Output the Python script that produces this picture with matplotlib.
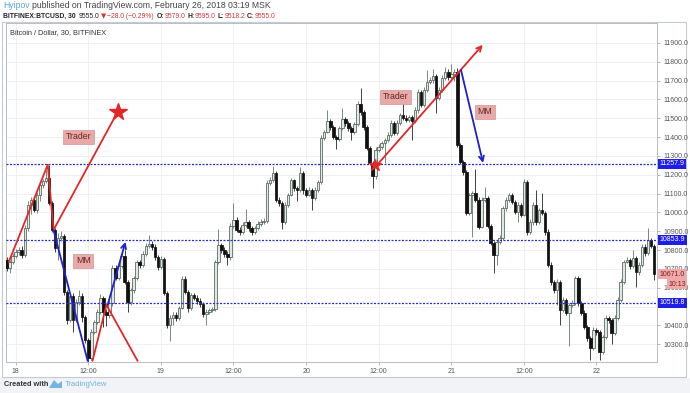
import numpy as np
import matplotlib
matplotlib.use('Agg')
import matplotlib.pyplot as plt
from matplotlib.patches import Rectangle, Polygon

plt.rcParams['font.family'] = ['Liberation Sans', 'DejaVu Sans']

# ---- data: BTCUSD 30m candles (bar index 0 = Feb 18 00:00) ----
first_open = 10748
closes = [
    10706, 10737, 10769, 10791, 10801, 10775, 10918, 11040, 11067, 11014,
    11093, 11146, 11168, 11184, 11051, 10907, 10812, 10865, 10876, 10578,
    10430, 10557, 10430, 10525, 10557, 10446, 10323, 10228, 10366, 10419,
    10472, 10546, 10472, 10456, 10520, 10706, 10653, 10716, 10769, 10631,
    10525, 10589, 10653, 10737, 10722, 10780, 10822, 10833, 10817, 10764,
    10711, 10753, 10573, 10403, 10440, 10456, 10440, 10493, 10647, 10578,
    10493, 10562, 10546, 10530, 10515, 10461, 10472, 10483, 10488, 10737,
    10828, 10801, 10780, 10764, 10929, 10961, 10907, 10897, 10934, 10950,
    10918, 10897, 10918, 10939, 10950, 10955, 11157, 11173, 11210, 11067,
    11051, 10950, 11040, 11093, 11173, 11130, 11120, 11210, 11120, 11093,
    11120, 11077, 11120, 11162, 11396, 11428, 11486, 11454, 11401, 11391,
    11449, 11497, 11476, 11449, 11428, 11470, 11577, 11534, 11454, 11343,
    11263, 11194, 11332, 11348, 11369, 11385, 11412, 11476, 11422, 11476,
    11518, 11502, 11491, 11507, 11486, 11545, 11640, 11571, 11651, 11693,
    11704, 11725, 11608, 11651, 11715, 11746, 11720, 11736, 11746, 11359,
    11269, 11215, 10998, 11093, 11104, 11067, 10923, 11067, 11077, 10929,
    10838, 10775, 10844, 10865, 11024, 11067, 11093, 11056, 11003, 11040,
    10987, 11162, 10897, 10950, 11040, 10950, 11014, 10998, 10897, 10722,
    10631, 10589, 10631, 10483, 10536, 10467, 10509, 10520, 10653, 10520,
    10467, 10392, 10334, 10281, 10376, 10366, 10260, 10339, 10440, 10430,
    10361, 10440, 10536, 10631, 10737, 10748, 10716, 10759, 10684, 10722,
    10817, 10785, 10854, 10822, 10671,
]
highs = [
    10765, 10750, 10785, 10805, 10815, 10820, 10935, 11060, 11080, 11080,
    11110, 11165, 11180, 11225, 11253, 11060, 10920, 10890, 10900, 10885,
    10590, 10575, 10570, 10540, 10590, 10570, 10455, 10335, 10380, 10430,
    10490, 10565, 10555, 10490, 10535, 10720, 10720, 10730, 10790, 10800,
    10640, 10600, 10665, 10750, 10750, 10795, 10840, 10880, 10850, 10830,
    10775, 10770, 10765, 10585, 10455, 10470, 10470, 10505, 10660, 10660,
    10590, 10575, 10575, 10560, 10545, 10525, 10485, 10495, 10500, 10750,
    10910, 10840, 10815, 10795, 10945, 11050, 10975, 10925, 10950, 11020,
    10960, 10930, 10930, 10955, 10965, 10970, 11170, 11190, 11245, 11220,
    11080, 11060, 11055, 11105, 11185, 11180, 11140, 11240, 11220, 11130,
    11135, 11130, 11135, 11175, 11410, 11440, 11545, 11495, 11465, 11410,
    11460, 11555, 11505, 11485, 11460, 11480, 11590, 11660, 11545, 11465,
    11355, 11275, 11345, 11365, 11380, 11395, 11425, 11490, 11485, 11490,
    11530, 11600, 11515, 11520, 11515, 11560, 11655, 11650, 11665, 11755,
    11720, 11760, 11735, 11665, 11730, 11775, 11760, 11790, 11760, 11765,
    11370, 11280, 11225, 11105, 11115, 11230, 11080, 11080, 11135, 11090,
    10940, 10850, 10855, 10880, 11035, 11080, 11105, 11105, 11065, 11055,
    11050, 11180, 11175, 10965, 11055, 11120, 11025, 11105, 11010, 10910,
    10735, 10640, 10645, 10640, 10550, 10545, 10520, 10535, 10665, 10665,
    10530, 10480, 10405, 10345, 10390, 10385, 10375, 10350, 10455, 10450,
    10440, 10455, 10550, 10645, 10750, 10765, 10760, 10800, 10770, 10735,
    10830, 10830, 10920, 10865, 10835,
]
lows = [
    10690, 10680, 10725, 10760, 10775, 10760, 10765, 10900, 10990, 11000,
    10995, 11060, 11130, 11155, 11040, 10895, 10790, 10745, 10850, 10560,
    10410, 10420, 10365, 10420, 10510, 10420, 10305, 10207, 10215, 10355,
    10410, 10460, 10390, 10395, 10440, 10505, 10640, 10640, 10705, 10620,
    10470, 10510, 10575, 10640, 10705, 10710, 10770, 10810, 10800, 10750,
    10695, 10700, 10560, 10385, 10320, 10400, 10425, 10430, 10485, 10565,
    10470, 10480, 10535, 10515, 10500, 10445, 10400, 10460, 10470, 10475,
    10725, 10785, 10765, 10720, 10750, 10915, 10895, 10880, 10885, 10925,
    10900, 10880, 10885, 10905, 10930, 10940, 10945, 11145, 11160, 11055,
    11035, 10910, 10940, 11030, 11085, 11115, 11060, 11110, 11100, 11080,
    11085, 11015, 11065, 11110, 11150, 11385, 11420, 11440, 11390, 11335,
    11380, 11440, 11460, 11435, 11385, 11415, 11460, 11520, 11440, 11330,
    11250, 11130, 11180, 11320, 11335, 11260, 11375, 11400, 11410, 11410,
    11465, 11490, 11480, 11480, 11385, 11475, 11530, 11560, 11560, 11640,
    11680, 11690, 11530, 11595, 11640, 11705, 11705, 11710, 11700, 11345,
    11255, 11200, 10985, 10985, 10870, 11055, 10910, 10915, 11055, 10915,
    10825, 10680, 10720, 10830, 10855, 11010, 11055, 11045, 10990, 10950,
    10975, 10980, 10880, 10885, 10935, 10935, 10940, 10985, 10880, 10710,
    10615, 10575, 10510, 10405, 10470, 10455, 10290, 10500, 10510, 10505,
    10455, 10380, 10320, 10215, 10270, 10350, 10215, 10250, 10330, 10415,
    10300, 10350, 10430, 10525, 10620, 10730, 10700, 10705, 10605, 10670,
    10710, 10770, 10775, 10810, 10640,
]
first_bar = -3

level_prices = [11257.9, 10853.9, 10519.8]
last_price = 10671.0
time_ticks = [0, 24, 48, 72, 96, 120, 144, 168, 192]
time_labels = ['18', '12:00', '19', '12:00', '20', '12:00', '21', '12:00', '22']
price_ticks = list(range(10300, 12000, 100))
hidden_price_labels = [10500]  # fully covered by the 10519.8 level tag

# drawings (bar index, price)
trader1_path = [(-2.3, 10737), (10.6, 11253), (12.5, 10907), (33.7, 11534)]
mm1_path = [(12.5, 10907), (23.8, 10212)]
trader2_path = [(25.4, 10212), (30.0, 10509), (40.3, 10212)]
mm2_arrow = [(30.4, 10509), (36.3, 10844)]
trader3_arrow = [(119.5, 11253), (154.4, 11890)]
mm3_arrow = [(147.2, 11757), (154.5, 11263)]
stars = [(33.7, 11534, 13), (118.8, 11253, 9)]
labels = [(20.8, 11401, 'Trader'), (22.4, 10743, 'MM'),
          (125.7, 11614, 'Trader'), (155.1, 11534, 'MM')]

# ---- figure ----
W, H = 690, 393
fig = plt.figure(figsize=(W / 100, H / 100), dpi=100)

def fx(px):
    return px / W

def fy(py):
    return 1 - py / H

# footer band and chart frame (behind the axes)
fig.patches.append(Rectangle((0, 0), 1, fy(378), transform=fig.transFigure,
                             facecolor='#f1f3f6', edgecolor='none', zorder=-10))
fig.patches.append(Rectangle((fx(2), fy(377)), fx(686) - fx(2), fy(22) - fy(377),
                             transform=fig.transFigure, facecolor='white',
                             edgecolor='#c5cad0', lw=0.8, zorder=-9))

ax = fig.add_axes([fx(6), fy(362), (657 - 6) / W, (362 - 23) / H])
ax.set_facecolor('white')

idx = np.arange(first_bar, first_bar + len(closes))
c = np.array(closes, dtype=float)
o = np.array([first_open] + closes[:-1], dtype=float)
hi = np.array(highs, dtype=float)
lo = np.array(lows, dtype=float)
up = c >= o

ax.vlines(idx[up], lo[up], hi[up], color='#66766c', lw=0.6, zorder=2)
ax.vlines(idx[~up], lo[~up], hi[~up], color='#222222', lw=0.6, zorder=2)
body = np.maximum(np.abs(c - o), 5)
ax.bar(idx[up], body[up], bottom=np.minimum(o, c)[up], width=0.82,
       color='#dfe8e1', edgecolor='#4f6156', lw=0.55, zorder=3)
ax.bar(idx[~up], body[~up], bottom=np.minimum(o, c)[~up], width=0.82,
       color='#111111', edgecolor='#111111', lw=0.55, zorder=3)

ax.set_xlim(-3.2, 212)
ax.set_ylim(10206, 12006)

ax.yaxis.tick_right()
ax.set_yticks(price_ticks)
ax.set_yticklabels(['' if v in hidden_price_labels else f'{v:.1f}' for v in price_ticks])
ax.set_xticks(time_ticks)
ax.set_xticklabels(time_labels)
ax.tick_params(axis='y', length=2, width=0.5, color='#999999', labelsize=5,
               labelcolor='#555555', pad=3)
ax.tick_params(axis='x', length=2, width=0.5, color='#999999', labelsize=5,
               labelcolor='#555555', pad=2)
ax.grid(True, color='#eceef2', lw=0.6)
ax.set_axisbelow(True)
for s in ax.spines.values():
    s.set_color('#b9bec5')
    s.set_linewidth(0.7)

ax.text(4 / 651, 1 - 10 / 339, 'Bitcoin / Dollar, 30, BITFINEX', transform=ax.transAxes,
        fontsize=5.3, color='#333333', va='center', ha='left')

# horizontal levels
ytr = ax.get_yaxis_transform()
for v in level_prices:
    ax.axhline(v, color='#2a2ad6', lw=0.9, ls=(0, (1.6, 1.2)), zorder=4)
    ax.text(1.004, v, f'{v:.1f}', transform=ytr, fontsize=5, color='white',
            va='center', ha='left', clip_on=False, zorder=6,
            bbox=dict(boxstyle='square,pad=0.22', fc='#1e1ee6', ec='none'))
ax.text(1.004, last_price, f'{last_price:.1f}', transform=ytr, fontsize=5,
        color='#7a2020', va='center', ha='left', clip_on=False, zorder=6,
        bbox=dict(boxstyle='square,pad=0.22', fc='#f0a8a8', ec='none'))
ax.text(1.017, last_price - 52, '10:13', transform=ytr, fontsize=5,
        color='#7a2020', va='center', ha='left', clip_on=False, zorder=6,
        bbox=dict(boxstyle='square,pad=0.22', fc='#f0a8a8', ec='none'))

# drawings
red = '#e32626'
blue = '#2020c8'
for path, col in [(trader1_path, red), (mm1_path, blue), (trader2_path, red)]:
    xs, ys = zip(*path)
    ax.plot(xs, ys, color=col, lw=1.3, zorder=5, solid_capstyle='round')
for (p0, p1), col in [(mm2_arrow, blue), (trader3_arrow, red), (mm3_arrow, blue)]:
    ax.annotate('', xy=p1, xytext=p0, zorder=5,
                arrowprops=dict(arrowstyle='->', color=col, lw=1.3,
                                mutation_scale=9, shrinkA=0, shrinkB=0))
for sx, sy, ms in stars:
    ax.plot(sx, sy, marker='*', color=red, markersize=ms, zorder=6, mec=red)
for lx, ly, t in labels:
    ax.text(lx, ly, t, fontsize=6.3, color='#6a2323', ha='center', va='center',
            zorder=7, bbox=dict(boxstyle='square,pad=0.3', fc='#e8a9a9', ec='#d89494', lw=0.5))

# header, pieces chained left to right
dark = '#222222'
rc = '#d23a3a'

def chain(pieces, x0, y0, size):
    prev = None
    for txt, col, bold, gap in pieces:
        kw = dict(color=col, fontsize=size, va='center', ha='left',
                  weight='bold' if bold else 'normal')
        if txt == '▼':
            kw['family'] = ['DejaVu Sans']
        if prev is None:
            prev = fig.text(fx(x0), fy(y0), txt, **kw)
        else:
            prev = fig.add_artist(plt.Annotation(txt, xy=(1, 0.5), xycoords=prev,
                                                 xytext=(gap, 0), textcoords='offset points',
                                                 **kw))

chain([('Hyipov', '#5aa6dc', False, 0),
       ('published on TradingView.com, February 26, 2018 03:19 MSK', '#444444', False, 1.5)],
      3, 5, 6.2)
chain([('BITFINEX:BTCUSD, 30', dark, True, 0),
       ('9555.0', dark, False, 2),
       ('▼', rc, False, 1),
       ('−28.0 (−0.29%)', rc, False, 1),
       ('O:', dark, True, 2), ('9579.0', rc, False, 0.5),
       ('H:', dark, True, 1), ('9595.0', rc, False, 0.5),
       ('L:', dark, True, 1), ('9518.2', rc, False, 0.5),
       ('C:', dark, True, 1), ('9555.0', rc, False, 0.5)],
      3, 16, 4.9)

# footer
fig.text(fx(4), fy(385), 'Created with', color='#333333', fontsize=5.3, va='center', weight='bold')
logo_c = '#74b6e2'
fig.patches.append(Polygon([(fx(49), fy(388)), (fx(54), fy(380)), (fx(58), fy(384)),
                            (fx(62), fy(381)), (fx(62), fy(388))], closed=True,
                           transform=fig.transFigure, fc=logo_c, ec='none'))
fig.text(fx(65), fy(385), 'TradingView', color='#6fb0de', fontsize=5.5, va='center')

fig.savefig('out.png', dpi=100)
